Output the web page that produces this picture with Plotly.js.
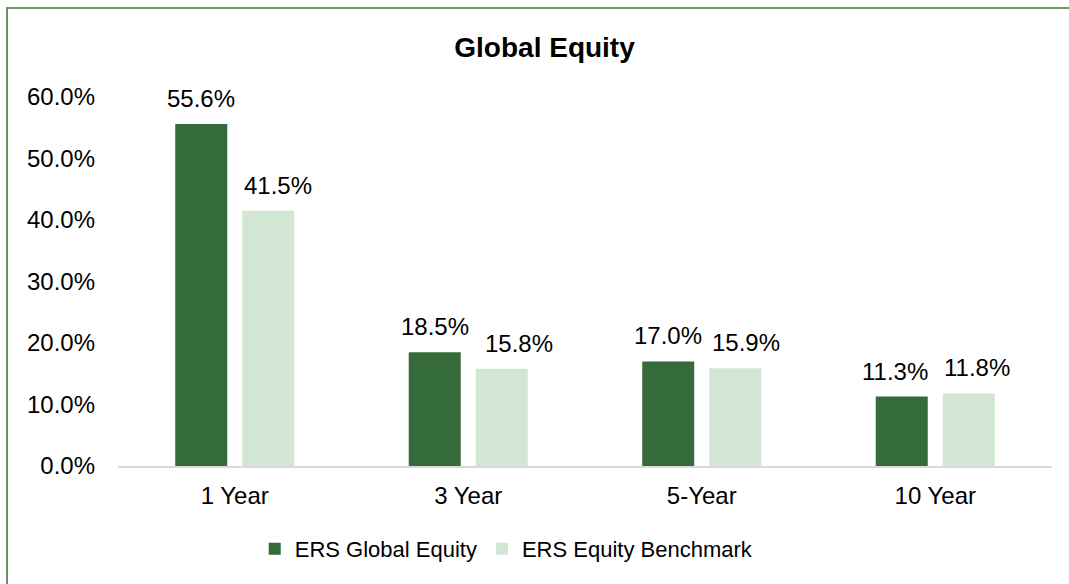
<!DOCTYPE html>
<html>
<head>
<meta charset="utf-8">
<script src="https://cdn.plot.ly/plotly-3.0.1.min.js"></script>
<style>
  html, body { margin: 0; padding: 0; background: #fff; overflow: hidden; }
  #chart { width: 1069px; height: 584px; }
  #frame { position: absolute; left: 6px; top: 7px; width: 2000px; height: 2000px;
           border-left: 2px solid #6e926a; border-top: 2px solid #6e926a; pointer-events: none; }
</style>
</head>
<body>
<div id="chart"></div>
<div id="frame"></div>
<script>
const categories = ["1 Year", "3 Year", "5-Year", "10 Year"];
const seriesNames = ["ERS Global Equity", "ERS Equity Benchmark"];
const globalEquity = [55.6, 18.5, 17.0, 11.3];
const equityBenchmark = [41.5, 15.8, 15.9, 11.8];
const yTicks = [0, 10, 20, 30, 40, 50, 60];

const FONT = "Liberation Sans, Arial, sans-serif";
const colors = ["#356a3b", "#d1e7d3"];
const allSeries = [globalEquity, equityBenchmark];

const traces = allSeries.map((vals, i) => ({
  type: "bar",
  name: seriesNames[i],
  x: categories,
  y: vals,
  marker: { color: colors[i] },
  hoverinfo: "skip"
}));

// label placement (pixel shifts from category centre), styling only
const labelShiftX = [[-33.5, -33.5, -33.5, -40], [43, 51, 44, 42]];
const annotations = [];
allSeries.forEach((vals, i) => {
  vals.forEach((v, j) => {
    annotations.push({
      x: categories[j], y: v, xref: "x", yref: "y",
      text: v.toFixed(1) + "%",
      showarrow: false, xshift: labelShiftX[i][j], yshift: 10,
      xanchor: "center", yanchor: "bottom",
      font: { family: FONT, size: 24, color: "#000" }
    });
  });
});

const layout = {
  width: 1069, height: 584,
  margin: { l: 118, r: 17, t: 97, b: 118 },
  paper_bgcolor: "#fff", plot_bgcolor: "#fff",
  font: { family: FONT, size: 24, color: "#000" },
  title: {
    text: "<b>Global Equity</b>",
    font: { family: FONT, size: 28, color: "#000" },
    xref: "container", yref: "container",
    x: 0.5094, xanchor: "center", y: 0.9195, yanchor: "middle"
  },
  barmode: "group",
  bargap: 0.426,
  bargroupgap: 0.224,
  xaxis: {
    type: "category",
    showline: true, linecolor: "#d9d9d9", linewidth: 2,
    showgrid: false, zeroline: false, ticks: "",
    ticklabelstandoff: 7,
    tickfont: { family: FONT, size: 24, color: "#000" }
  },
  yaxis: {
    range: [0, 60],
    tickvals: yTicks,
    ticktext: yTicks.map(t => t.toFixed(1) + "%"),
    showline: false, showgrid: false, zeroline: false, ticks: "",
    ticklabelstandoff: 22,
    tickfont: { family: FONT, size: 24, color: "#000" }
  },
  showlegend: true,
  legend: {
    orientation: "h",
    x: 0.1464, xanchor: "left",
    y: -0.225, yanchor: "middle",
    font: { family: FONT, size: 22, color: "#000" },
    bgcolor: "rgba(0,0,0,0)"
  },
  annotations: annotations
};

Plotly.newPlot("chart", traces, layout, { displayModeBar: false, staticPlot: true });
</script>
</body>
</html>
